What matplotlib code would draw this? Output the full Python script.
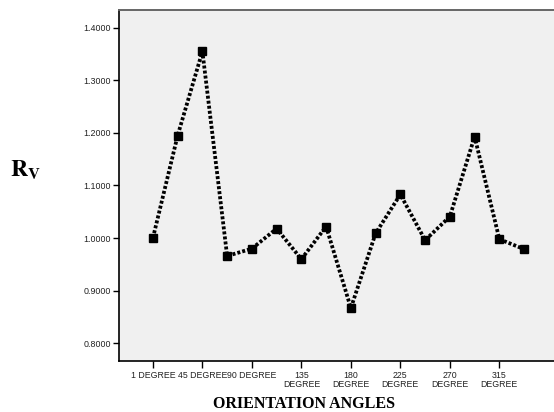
import numpy as np
import matplotlib
matplotlib.use("Agg")
import matplotlib.pyplot as plt

# orientation angles (every 22.5 degrees), only every other one is labelled
angles = ['1', '22.5', '45', '67.5', '90', '112.5', '135', '157.5',
          '180', '202.5', '225', '247.5', '270', '292.5', '315', '337.5']
rv = [1.000, 1.195, 1.355, 0.966, 0.980, 1.018, 0.960, 1.022,
      0.867, 1.009, 1.083, 0.996, 1.041, 1.193, 0.998, 0.979]
tick_labels = ['1 DEGREE', '45 DEGREE', '90 DEGREE', '135\nDEGREE',
               '180\nDEGREE', '225\nDEGREE', '270\nDEGREE', '315\nDEGREE']
y_ticks = [0.8, 0.9, 1.0, 1.1, 1.2, 1.3, 1.4]

plt.rcParams['font.family'] = ['Liberation Sans', 'DejaVu Sans']
plt.rcParams['mathtext.fontset'] = 'stix'

fig = plt.figure(figsize=(5.54, 4.12), dpi=100, facecolor='white')
ax = fig.add_axes([119 / 554, 51 / 412, (558 - 119) / 554, (402 - 51) / 412])
ax.set_facecolor('#f0f0f0')

x = np.arange(len(angles))
ax.plot(x, rv, color='black', linewidth=2.7, linestyle=(0, (0.8, 0.55)),
        marker='s', markersize=5.6, markerfacecolor='black',
        markeredgecolor='black', zorder=3)

ax.set_xlim(-1.37, len(angles) - 1 + 1.37)
ax.set_ylim(0.7664, 1.4336)

ax.set_xticks(x[::2])
ax.set_xticklabels(tick_labels, fontsize=6.3, color='#222222', linespacing=1.0)
ax.set_yticks(y_ticks)
ax.set_yticklabels([f'{v:.4f}' for v in y_ticks], fontsize=6.4, color='#222222')
ax.tick_params(axis='x', length=5, width=1, pad=2, direction='out')
ax.tick_params(axis='y', length=4, width=1, pad=2, direction='out')

ax.spines['right'].set_visible(False)
ax.spines['top'].set_color('#666666')
ax.spines['top'].set_linewidth(1.4)
ax.spines['left'].set_color('black')
ax.spines['left'].set_linewidth(1.2)
ax.spines['bottom'].set_color('black')
ax.spines['bottom'].set_linewidth(1.2)

fig.text(304 / 554, 1 - 404 / 412, 'ORIENTATION ANGLES', ha='center', va='center',
         fontsize=11.5, fontweight='bold', family='Liberation Serif')
fig.text(10 / 554, 1 - 170 / 412, r'$\mathbf{R}_{\mathbf{V}}$', ha='left', va='center',
         fontsize=17)

fig.savefig('out.png', dpi=100)
plt.close(fig)
